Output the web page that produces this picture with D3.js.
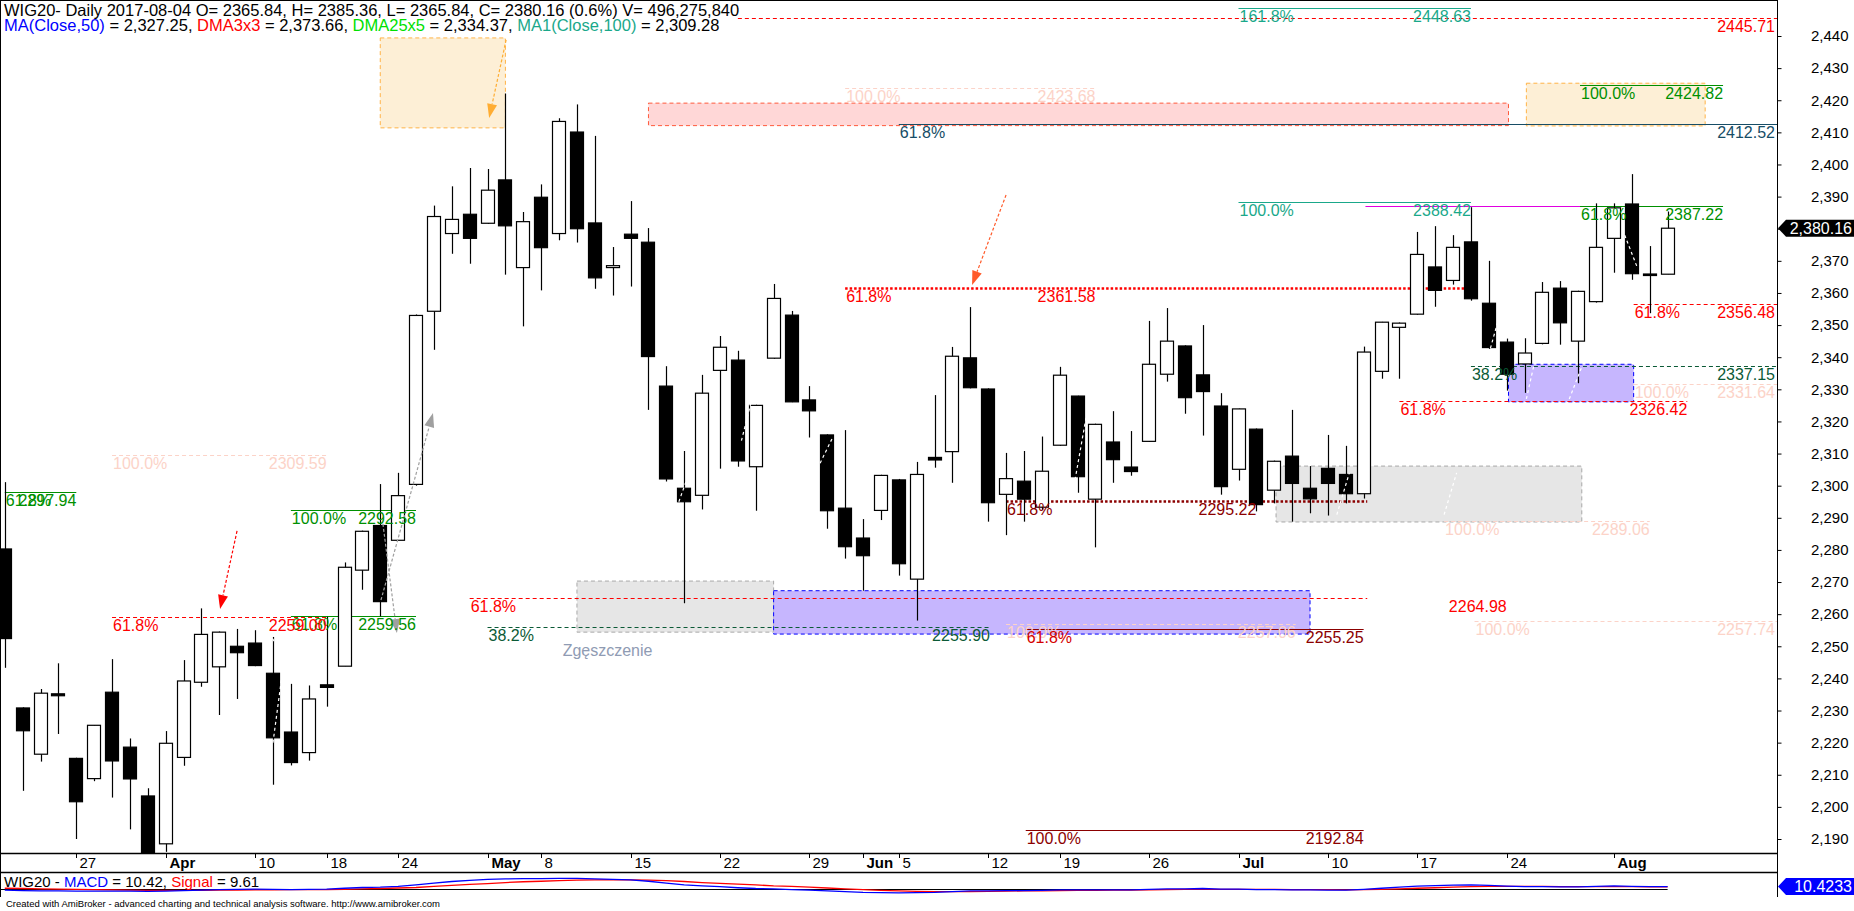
<!DOCTYPE html>
<html><head><meta charset="utf-8">
<script src="https://cdn.jsdelivr.net/npm/d3@7"></script>
<style>
html,body{margin:0;padding:0;background:#fff;overflow:hidden}
svg{display:block;font-family:"Liberation Sans",Arial,sans-serif}
</style></head><body>
<svg id="c" width="1854" height="911"></svg>
<script>
// ---------------- DATA ----------------
const dates = ["03-21","03-22","03-23","03-24","03-27","03-28","03-29","03-30","03-31",
"04-03","04-04","04-05","04-06","04-07","04-10","04-11","04-12","04-13","04-18","04-19","04-20","04-21","04-24","04-25","04-26","04-27","04-28",
"05-02","05-04","05-05","05-08","05-09","05-10","05-11","05-12","05-15","05-16","05-17","05-18","05-19","05-22","05-23","05-24","05-25","05-26","05-29","05-30","05-31",
"06-01","06-02","06-05","06-06","06-07","06-08","06-09","06-12","06-13","06-14","06-16","06-19","06-20","06-21","06-22","06-23","06-26","06-27","06-28","06-29","06-30",
"07-03","07-04","07-05","07-06","07-07","07-10","07-11","07-12","07-13","07-14","07-17","07-18","07-19","07-20","07-21","07-24","07-25","07-26","07-27","07-28","07-31",
"08-01","08-02","08-03","08-04"];
const open  = [2280.3,2230.8,2216.4,2235.2,2215.1,2208.8,2235.7,2218.6,2203.4,
2188.5,2215.4,2238.8,2243.6,2250.0,2251.0,2241.6,2223.3,2216.9,2238.0,2243.8,2273.7,2287.6,2283.0,2300.4,2354.3,2378.5,2384.5,
2381.7,2395.2,2367.9,2389.8,2378.5,2410.1,2381.8,2367.9,2378.3,2375.8,2331.0,2299.2,2297.0,2335.9,2339.1,2305.9,2339.7,2353.1,2326.7,2315.8,2293.0,
2283.7,2292.3,2301.8,2270.9,2308.8,2310.6,2339.8,2330.1,2297.3,2301.4,2293.3,2312.6,2327.9,2295.8,2313.6,2305.8,2313.8,2334.7,2343.5,2334.5,2324.8,
2305.1,2317.6,2298.6,2309.2,2299.2,2305.4,2303.5,2297.5,2335.6,2349.3,2353.4,2368.1,2363.9,2375.9,2356.8,2344.7,2337.9,2344.3,2361.5,2345.0,2357.3,
2377.0,2387.7,2365.9,2365.84];
const high  = [2301.1,2231.0,2236.7,2244.7,2215.3,2225.5,2246.0,2221.3,2205.8,
2223.6,2245.7,2261.8,2254.6,2255.4,2255.0,2252.9,2238.3,2237.8,2259.2,2276.1,2286.0,2300.5,2304.0,2353.3,2387.2,2393.2,2398.9,
2398.6,2422.1,2385.2,2393.8,2414.4,2418.7,2408.9,2374.3,2388.6,2380.2,2337.2,2310.8,2334.5,2346.6,2342.0,2325.2,2362.8,2354.4,2331.0,2316.0,2317.3,
2289.6,2303.4,2302.1,2307.4,2328.2,2343.2,2355.6,2330.3,2310.2,2310.8,2315.3,2337.0,2328.0,2319.3,2323.2,2317.0,2351.3,2355.3,2343.7,2350.0,2328.8,
2324.0,2317.8,2307.8,2323.6,2306.1,2315.8,2312.4,2343.3,2351.0,2350.8,2379.0,2380.8,2378.0,2386.7,2370.0,2345.8,2345.9,2363.4,2363.7,2360.7,2387.9,
2387.9,2397.0,2374.6,2385.36];
const low   = [2243.3,2205.0,2214.1,2222.7,2190.0,2208.0,2202.9,2193.0,2180.0,
2186.0,2212.8,2237.4,2228.6,2233.6,2243.8,2206.9,2212.9,2214.4,2231.2,2243.8,2267.6,2259.3,2283.0,2300.0,2342.3,2372.2,2369.1,
2381.5,2365.7,2349.6,2360.8,2376.4,2375.7,2361.3,2359.2,2362.0,2323.6,2301.3,2263.4,2292.6,2305.3,2305.9,2292.2,2339.5,2326.0,2315.0,2286.6,2277.3,
2267.3,2289.3,2272.0,2258.0,2305.6,2300.9,2330.3,2288.8,2284.6,2288.8,2292.5,2312.4,2297.8,2280.8,2300.9,2303.1,2313.6,2332.4,2322.4,2315.6,2297.2,
2301.6,2292.0,2294.5,2288.8,2291.4,2290.7,2294.5,2296.0,2333.3,2333.3,2353.2,2355.7,2362.6,2357.6,2342.6,2329.6,2328.9,2344.0,2343.9,2331.9,2357.0,
2366.3,2364.1,2353.7,2365.84];
const close = [2252.4,2223.7,2235.4,2234.6,2201.6,2225.4,2214.3,2208.7,2184.0,
2219.8,2239.2,2253.7,2254.4,2248.0,2244.0,2221.5,2213.8,2233.6,2237.2,2274.6,2285.8,2263.9,2296.9,2353.0,2383.8,2382.9,2377.0,
2392.0,2380.9,2382.2,2374.1,2413.4,2380.0,2364.7,2368.5,2377.0,2340.2,2302.1,2295.0,2328.8,2343.1,2307.7,2325.0,2358.3,2326.1,2323.3,2292.2,2281.0,
2278.2,2303.2,2275.7,2303.5,2308.0,2340.3,2330.5,2294.7,2302.2,2295.8,2304.5,2334.4,2302.8,2319.1,2308.1,2304.4,2337.8,2345.0,2327.4,2329.3,2299.7,
2323.9,2294.1,2307.6,2300.7,2295.9,2300.7,2297.5,2341.6,2350.9,2350.6,2372.0,2360.8,2374.2,2358.2,2343.0,2334.7,2341.3,2360.2,2350.7,2360.5,2374.2,
2386.5,2366.0,2365.5,2380.16];
const macd = [-3,-5,-6,-6,-7,-7,-7,-7,-8,
-7,-5,-3,-1,0,1,0,-1,0,1,4,7,8,11,17,24,30,34,
38,40,41,41,42,42,40,38,36,31,24,17,13,10,6,3,2,-1,-3,-6,-9,
-12,-13,-14,-13,-12,-9,-6,-6,-5,-5,-4,-2,-2,-2,-2,-2,0,2,2,3,1,
1,-1,-1,-2,-2,-3,-3,0,4,8,12,14,16,17,15,12,10,10,9,9,11,
13,11,10,10.42];
const signal = [4,3,2,1,0,-1,-2,-3,-4,
-4,-4,-4,-3,-3,-2,-2,-1,-1,-1,0,2,3,5,7,11,15,19,
22,26,29,31,33,35,36,37,36,35,33,30,26,23,20,17,13,11,8,5,2,
-1,-4,-6,-8,-9,-9,-9,-8,-7,-6,-6,-5,-4,-4,-3,-3,-2,-1,0,0,0,
0,0,0,-1,-1,-1,-2,-1,0,2,4,6,8,10,11,11,11,11,10,10,10,
10,10,9.5,9.61];
const priceTicks = [2190,2200,2210,2220,2230,2240,2250,2260,2270,2280,2290,2300,2310,2320,2330,2340,2350,2360,2370,2380,2390,2400,2410,2420,2430,2440];
const dateTickDates  = ["03-27","04-03","04-10","04-18","04-24","05-02","05-08","05-15","05-22","05-29","06-01","06-05","06-12","06-19","06-26","07-03","07-10","07-17","07-24","08-01"];
const dateTickLabels = ["27","Apr","10","18","24","May","8","15","22","29","Jun","5","12","19","26","Jul","10","17","24","Aug"];
const lastClose = 2380.16, lastMacd = 10.4233;

// ---------------- LAYOUT ----------------
const svg = d3.select("#c");
const AX = 1777, PB = 853, MT = 872, MB = 897;
const x = d3.scaleLinear().domain([0, 93]).range([4.78, 1667.62]);
const y = d3.scaleLinear().domain([2190, 2440]).range([839, 36]);
const ym = d3.scaleLinear().domain([0, 40]).range([889.3, 878.9]);
const FONT = '"Liberation Sans",Arial,sans-serif';

const C = {red:"#ff0000", dred:"#8b0000", green:"#009000", teal:"#1aa88a", dteal:"#174d66",
  dgreen:"#0b5a36", pale:"#fcd3c8", mag:"#e000e0"};

svg.append("defs").append("clipPath").attr("id","pc").append("rect")
  .attr("x",0).attr("y",0).attr("width",AX).attr("height",PB);
svg.select("defs").append("clipPath").attr("id","mc").append("rect")
  .attr("x",0).attr("y",MT).attr("width",AX).attr("height",MB-MT);

const gBack = svg.append("g").attr("clip-path","url(#pc)");
const gCand = svg.append("g").attr("clip-path","url(#pc)");
const gFront = svg.append("g").attr("clip-path","url(#pc)");

// boxes (k1,k2,p1,p2,fill,stroke)
const boxes = [
  [21,28,2439.4,2411.4,"#fdefd6","#ffb347"],
  [36,84.1,2419.1,2412.1,"#ffd7d7","#ff5a3c"],
  [85.1,95.1,2425.3,2412.0,"#fdefd6","#ffb347"],
  [84.1,91.1,2337.8,2326.1,"#c6b6fe","#0000ff"],
  [71.1,88.2,2306.1,2288.7,"#e6e6e6","#a8a8a8"],
  [32,43,2270.3,2254.4,"#e6e6e6","#a8a8a8"],
  [43,73,2267.3,2253.8,"#c6b6fe","#0000ff"]
];
boxes.forEach(b=>{
  gBack.append("rect").attr("x",x(b[0])).attr("y",y(b[2]))
    .attr("width",x(b[1])-x(b[0])).attr("height",y(b[3])-y(b[2]))
    .attr("fill",b[4]).attr("stroke",b[5]).attr("stroke-width",1).attr("stroke-dasharray","4,3");
});

// horizontal levels: k1, k2 (null = axis), price, color, style, leftLabel, rightLabel, rightK, leftLabelColor
const levels = [
  [41,null,2445.71,C.red,"dash",null,"2445.71",null],
  [69,82,2448.63,C.teal,"solid","161.8%","2448.63",82],
  [47,61,2423.68,C.pale,"dash","100.0%","2423.68",61],
  [50,null,2412.52,C.dteal,"solid","61.8%","2412.52",null],
  [88.1,96.1,2424.82,C.green,"solid","100.0%","2424.82",96.1],
  [69,82,2388.42,C.teal,"solid","100.0%","2388.42",82],
  [76.1,88.1,2387.22,C.mag,"solid",null,null,null],
  [88.1,96.1,2387.22,C.green,"solid","61.8%","2387.22",96.1],
  [47,82,2361.58,C.red,"dot","61.8%","2361.58",61],
  [91.1,null,2356.48,C.red,"dash","61.8%","2356.48",null],
  [82,null,2337.15,C.dgreen,"dash","38.2%","2337.15",null],
  [91.1,null,2331.64,C.pale,"dash","100.0%","2331.64",null],
  [78,94.1,2326.42,C.red,"dash","61.8%","2326.42",94.1],
  [80.5,92,2289.06,C.pale,"dash","100.0%","2289.06",92],
  [56,76.2,2295.22,C.dred,"dot","61.8%","2295.22",70],
  [6,18,2309.59,C.pale,"dash","100.0%","2309.59",18],
  [0,4,2297.94,C.green,"solid","61.8%","2297.94",4],
  [16,23,2292.58,C.green,"solid","100.0%","2292.58",23],
  [16,23,2259.56,C.green,"solid","61.8%","2259.56",23],
  [6,18,2259.00,C.red,"dash","61.8%","2259.00",18],
  [26,76.2,2264.98,C.red,"dash","61.8%","2264.98",84],
  [27,55.1,2255.90,C.dgreen,"dash","38.2%","2255.90",55.1],
  [56,72.2,2257.06,C.pale,"dash","100.0%","2257.06",72.2],
  [57.1,76,2255.25,C.dred,"solid","61.8%","2255.25",76,"#d40000"],
  [57.1,76,2192.84,C.dred,"solid","100.0%","2192.84",76],
  [82.2,null,2257.74,C.pale,"dash","100.0%","2257.74",null]
];
levels.forEach(l=>{
  const x1 = x(l[0]), x2 = l[1]===null ? AX : x(l[1]);
  const yy = Math.round(y(l[2]))+0.5;
  const ln = gBack.append("line").attr("x1",x1).attr("x2",x2).attr("y1",yy).attr("y2",yy)
    .attr("stroke",l[3]);
  if(l[4]==="dash") ln.attr("stroke-width",1).attr("stroke-dasharray","4,3");
  else if(l[4]==="dot") ln.attr("stroke-width",2.6).attr("stroke-dasharray","2.5,2");
  else ln.attr("stroke-width",1.2);
});

// white dashed trend-line fragments (visible only over filled areas): k1,p1,k2,p2
const whiteDash = [
  [14.6,2255.5,15.2,2250.5],
  [15.0,2220,15.6,2245],
  [37.7,2295,38.4,2306],
  [45.6,2307,46.3,2315],
  [41.2,2314,42.1,2334],
  [59.8,2300,60.5,2322],
  [83.0,2341,83.7,2355],
  [85.1,2327,85.5,2337],
  [87.5,2327,88.2,2337],
  [90.6,2378,91.3,2368],
  [34.7,2229,35.3,2239],
  [74.5,2291,75.2,2304],
  [80.5,2291,81.2,2304]
];

// arrows: from (k,p) to tip (k,p)
const arrows = [
  [28.04,2438.8,27.09,2414.5,"#ffad33"],
  [21.04,2264.4,23.95,2322.6,"#a0a0a0"],
  [21.15,2288.1,21.93,2254.1,"#a0a0a0"],
  [12.99,2285.9,12.04,2261.6,"#ff0000"],
  [56.0,2390.5,54.1,2362.5,"#ff5a2a"]
];

// candles
const bars = dates.map((d,i)=>({k:i,o:open[i],h:high[i],l:low[i],c:close[i]}));
gCand.selectAll("line.w").data(bars).join("line").attr("class","w")
  .attr("x1",d=>Math.round(x(d.k))+0.5).attr("x2",d=>Math.round(x(d.k))+0.5)
  .attr("y1",d=>y(d.h)).attr("y2",d=>y(d.l)).attr("stroke","#000").attr("stroke-width",1.2);
gCand.selectAll("rect.b").data(bars).join("rect").attr("class","b")
  .attr("x",d=>Math.round(x(d.k))-6.5).attr("width",13)
  .attr("y",d=>y(Math.max(d.o,d.c)))
  .attr("height",d=>Math.max(1.5, Math.abs(y(d.o)-y(d.c))))
  .attr("fill",d=>d.c>=d.o?"#fff":"#000").attr("stroke","#000").attr("stroke-width",1.2);

whiteDash.forEach(w=>{
  gFront.append("line").attr("x1",x(w[0])).attr("y1",y(w[1])).attr("x2",x(w[2])).attr("y2",y(w[3]))
    .attr("stroke","#fff").attr("stroke-width",1.2).attr("stroke-dasharray","3,3");
});

// arrows on top
arrows.forEach(a=>{
  const x1=x(a[0]), y1=y(a[1]), x2=x(a[2]), y2=y(a[3]);
  const ang = Math.atan2(y2-y1, x2-x1);
  const L=14, Wd=5;
  const bx = x2 - L*Math.cos(ang), by = y2 - L*Math.sin(ang);
  gFront.append("line").attr("x1",x1).attr("y1",y1).attr("x2",bx).attr("y2",by)
    .attr("stroke",a[4]).attr("stroke-width",1.2).attr("stroke-dasharray","3,2");
  const p = [[x2,y2],[bx+Wd*Math.sin(ang),by-Wd*Math.cos(ang)],[bx-Wd*Math.sin(ang),by+Wd*Math.cos(ang)]];
  gFront.append("path").attr("d","M"+p.map(q=>q.join(",")).join("L")+"Z").attr("fill",a[4]);
});

// level labels
levels.forEach(l=>{
  const yy = y(l[2]) + 14;
  const col = l[3];
  if(l[5]) gFront.append("text").attr("x",x(l[0])+1).attr("y",yy).attr("fill",l[8]||col)
    .attr("font-size",16).text(l[5]);
  if(l[6]) gFront.append("text").attr("x", l[7]===null ? 1775 : x(l[7])).attr("y",yy)
    .attr("text-anchor","end").attr("fill",col).attr("font-size",16).text(l[6]);
});
gFront.append("text").attr("x",x(31.2)).attr("y",y(2247)).attr("fill","#8f9bb3")
  .attr("font-size",16).text("Zgęszczenie");

// frame
svg.append("line").attr("x1",0.5).attr("x2",0.5).attr("y1",0).attr("y2",MB).attr("stroke","#000");
svg.append("line").attr("x1",0).attr("x2",AX).attr("y1",0.5).attr("y2",0.5).attr("stroke","#000");
svg.append("line").attr("x1",AX+0.5).attr("x2",AX+0.5).attr("y1",0).attr("y2",MB).attr("stroke","#000");
svg.append("line").attr("x1",0).attr("x2",AX).attr("y1",PB+0.5).attr("y2",PB+0.5).attr("stroke","#000").attr("stroke-width",1.3);
svg.append("line").attr("x1",0).attr("x2",AX).attr("y1",MT+0.5).attr("y2",MT+0.5).attr("stroke","#000").attr("stroke-width",1.3);

// price axis
const ya = d3.axisRight(y).tickValues(priceTicks).tickSize(4).tickFormat(d3.format(","));
const gy = svg.append("g").attr("transform",`translate(${AX+0.5},0)`).call(ya);
gy.select(".domain").remove();
gy.selectAll("text").attr("x",71).attr("text-anchor","end").attr("font-size",15)
  .attr("font-family",FONT).attr("fill","#000");
gy.selectAll("line").attr("stroke","#000");

// last price marker
function marker(yc, fill, txt){
  const g = svg.append("g");
  g.append("path").attr("d",`M${AX+1},${yc}L${AX+9},${yc-8.5}L1854,${yc-8.5}L1854,${yc+8.5}L${AX+9},${yc+8.5}Z`).attr("fill",fill);
  g.append("text").attr("x",1852).attr("y",yc+5.5).attr("text-anchor","end").attr("fill","#fff")
    .attr("font-size",16).text(txt);
}
marker(y(lastClose),"#000",d3.format(",.2f")(lastClose));

// date axis
const tickK = dateTickDates.map(d=>dates.indexOf(d));
const gx = svg.append("g");
tickK.forEach((k,i)=>{
  const xx = Math.round(x(k))+0.5;
  gx.append("line").attr("x1",xx).attr("x2",xx).attr("y1",PB).attr("y2",PB+5).attr("stroke","#000");
  const isM = /[A-Za-z]/.test(dateTickLabels[i]);
  gx.append("text").attr("x",xx+3).attr("y",868).attr("font-size",15)
    .attr("font-weight",isM?"bold":"normal").text(dateTickLabels[i]);
});

// MACD pane
const gm = svg.append("g").attr("clip-path","url(#mc)");
gm.append("line").attr("x1",0).attr("x2",x(93)).attr("y1",Math.round(ym(0))+0.5).attr("y2",Math.round(ym(0))+0.5).attr("stroke","#000");
const lineM = d3.line().x((d,i)=>x(i)).y(d=>ym(d));
gm.append("path").datum(signal).attr("d",lineM).attr("fill","none").attr("stroke","#ff0000").attr("stroke-width",1.3);
gm.append("path").datum(macd).attr("d",lineM).attr("fill","none").attr("stroke","#0000ff").attr("stroke-width",1.3);
const mt = svg.append("text").attr("x",4).attr("y",887).attr("font-size",15);
mt.append("tspan").text("WIG20 - ");
mt.append("tspan").attr("fill","#0000ff").text("MACD");
mt.append("tspan").text(" = " + macd[macd.length-1].toFixed(2) + ", ");
mt.append("tspan").attr("fill","#ff0000").text("Signal");
mt.append("tspan").text(" = " + signal[signal.length-1].toFixed(2));
svg.append("line").attr("x1",AX+0.5).attr("x2",AX+0.5).attr("y1",MT).attr("y2",MB).attr("stroke","#000");
marker(ym(lastMacd),"#0000ff",lastMacd.toFixed(4));

// header
const h1 = svg.append("text").attr("x",4).attr("y",15.5).attr("font-size",16.5).attr("fill","#000");
h1.text(`WIG20- Daily 2017-08-04 O= ${open[93].toFixed(2)}, H= ${high[93].toFixed(2)}, L= ${low[93].toFixed(2)}, C= ${close[93].toFixed(2)} (0.6%) V= 496,275,840`);
const h2 = svg.append("text").attr("x",4).attr("y",31).attr("font-size",16.5).attr("fill","#000");
[["MA(Close,50)","#0000ff"],[" = 2,327.25, ","#000"],["DMA3x3","#ff0000"],[" = 2,373.66, ","#000"],
 ["DMA25x5","#00e000"],[" = 2,334.37, ","#000"],["MA1(Close,100)","#1aa88a"],[" = 2,309.28","#000"]]
 .forEach(s=>h2.append("tspan").attr("fill",s[1]).text(s[0]));

// footer
svg.append("text").attr("x",6).attr("y",907).attr("font-size",9.5).attr("fill","#000")
  .text("Created with AmiBroker - advanced charting and technical analysis software. http://www.amibroker.com");
</script>
</body></html>
